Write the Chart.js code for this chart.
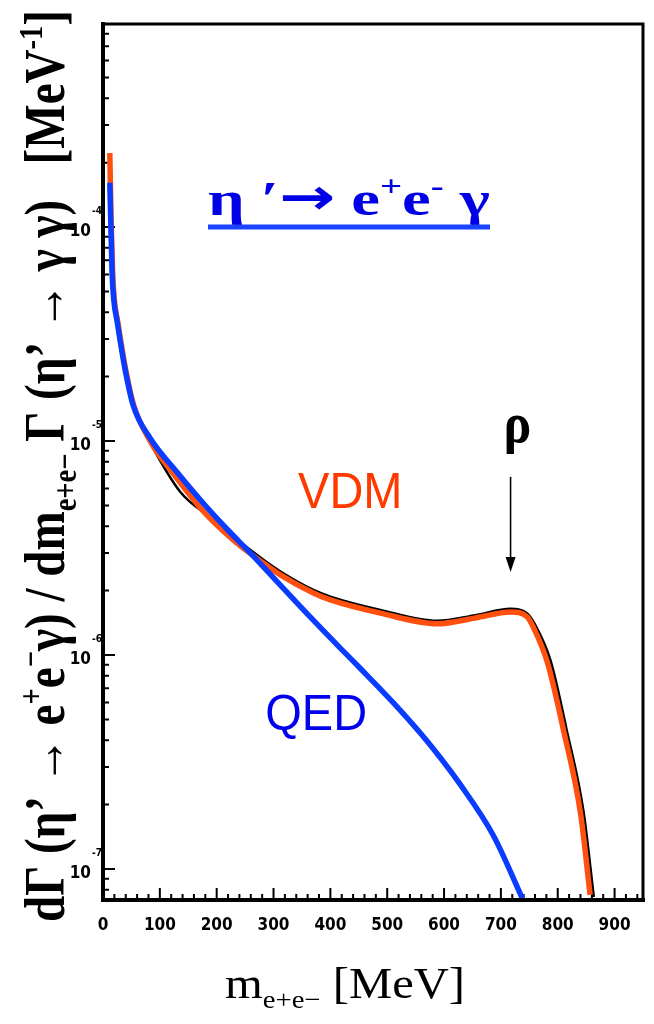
<!DOCTYPE html>
<html>
<head>
<meta charset="utf-8">
<script src="https://cdn.jsdelivr.net/npm/chart.js@4.4.1/dist/chart.umd.min.js"></script>
<style>
  html, body { margin: 0; padding: 0; background: #fff; }
  canvas { display: block; }
</style>
</head>
<body>
<canvas id="rate-chart" width="654" height="1024"></canvas>
<script>
// values: m_ee in MeV, rate in MeV^-1
const vdmMass = [12, 14, 17, 20, 26, 31, 40, 54, 83, 130, 176, 229, 282, 312, 370, 400, 488, 588, 655, 717, 746, 757, 782, 810, 840, 857];
const vdmRate = [2.22e-4, 1.14e-4, 6.1e-5, 4.56e-5, 3.6e-5, 2.96e-5, 2.15e-5, 1.47e-5, 1.0e-5, 6.7e-6, 4.71e-6, 3.45e-6, 2.69e-6, 2.37e-6, 1.95e-6, 1.81e-6, 1.57e-6, 1.40e-6, 1.49e-6, 1.59e-6, 1.51e-6, 1.35e-6, 9.2e-7, 4.47e-7, 1.83e-7, 7.57e-8];

const qedMass = [12, 16, 19, 25, 30, 39, 53, 83, 130, 176, 218, 259, 312, 364, 417, 452, 511, 570, 629, 687, 739];
const qedRate = [1.61e-4, 6.1e-5, 4.56e-5, 3.6e-5, 2.96e-5, 2.15e-5, 1.47e-5, 1.03e-5, 7.16e-6, 5.13e-6, 3.88e-6, 3.00e-6, 2.12e-6, 1.51e-6, 1.08e-6, 8.69e-7, 5.97e-7, 3.96e-7, 2.47e-7, 1.43e-7, 7.16e-8];

// black lines of the scanned original peeking out under the coloured ones
const scanQedMass = [53, 83, 136, 194, 259, 312, 417];
const scanQedRate = [1.42e-5, 9.8e-6, 5.78e-6, 4.28e-6, 2.95e-6, 2.09e-6, 1.07e-6];
const scanVdmMass = [229, 282, 312, 370, 400, 488, 588, 655, 717, 746, 760, 787, 815, 845, 863];
const scanVdmRate = [3.56e-6, 2.78e-6, 2.45e-6, 2.01e-6, 1.87e-6, 1.62e-6, 1.44e-6, 1.53e-6, 1.64e-6, 1.56e-6, 1.38e-6, 9.4e-7, 4.5e-7, 1.85e-7, 7.4e-8];

const xTickValues = [0, 100, 200, 300, 400, 500, 600, 700, 800, 900];
const yTickValues = [1e-4, 1e-5, 1e-6, 1e-7];
const yTickPowers = ['-4', '-5', '-6', '-7'];

const rhoArrow = { mass: 717, from: 6.8e-6, to: 2.44e-6, labelMass: 729, labelRate: 9.9e-6 };
const curveNotes = [
  { text: 'VDM', mass: 435, rate: 4.87e-6, color: '#ff3a00' },
  { text: 'QED', mass: 375, rate: 4.47e-7, color: '#0000ee' }
];

const SERIF = '"Liberation Serif", "Times New Roman", serif';
const SANS = '"Liberation Sans", Arial, sans-serif';
const NARROW = '"Liberation Sans Narrow", "DejaVu Sans Condensed", Arial, sans-serif';
const ARROW = '"DejaVu Sans", sans-serif';

function points(xs, ys) {
  return xs.map((x, i) => ({ x: x, y: ys[i] }));
}

// draws a run of text pieces, some of them raised or lowered
function drawRich(ctx, segs, opt) {
  const size = opt.size;
  const fontOf = s => (s.weight || opt.weight || 'normal') + ' ' +
    Math.round((s.sup || s.sub ? size * 0.6 : size) * (s.k || 1)) + 'px ' + (s.fam || opt.family);
  let total = 0;
  const widths = segs.map(s => {
    ctx.font = fontOf(s);
    const w = ctx.measureText(s.t).width;
    total += w;
    return w;
  });
  const sx = opt.width ? opt.width / total : 1;
  ctx.save();
  ctx.translate(opt.x, opt.y);
  if (opt.rotate) ctx.rotate(opt.rotate);
  ctx.scale(sx, opt.vScale || 1);
  ctx.fillStyle = opt.color || '#000';
  ctx.textAlign = 'left';
  ctx.textBaseline = 'alphabetic';
  let cx = opt.align === 'center' ? -total / 2 : 0;
  segs.forEach((s, i) => {
    ctx.font = fontOf(s);
    const dy = s.sup ? -size * 0.4 : s.sub ? size * 0.22 : (s.dy || 0);
    ctx.fillText(s.t, cx, dy);
    cx += widths[i];
  });
  ctx.restore();
}

const inwardTicks = {
  id: 'inwardTicks',
  beforeDatasetsDraw(chart) {
    const ctx = chart.ctx;
    const area = chart.chartArea;
    const xs = chart.scales.x;
    const ys = chart.scales.y;
    ctx.save();
    ctx.strokeStyle = '#000';
    ctx.lineWidth = 2;
    ctx.beginPath();
    for (let m = 0; m <= xs.max; m += 20) {
      const px = xs.getPixelForValue(m);
      const len = m % 100 === 0 ? 12 : 6;
      ctx.moveTo(px, area.bottom);
      ctx.lineTo(px, area.bottom - len);
    }
    for (let d = -8; d <= -3; d++) {
      for (let k = 1; k <= 9; k++) {
        const v = k * Math.pow(10, d);
        if (v < ys.min || v > ys.max) continue;
        const py = ys.getPixelForValue(v);
        const len = k === 1 ? 12 : 6;
        ctx.moveTo(area.left, py);
        ctx.lineTo(area.left + len, py);
      }
    }
    ctx.stroke();
    ctx.restore();
  },
  afterDatasetsDraw(chart) {
    const ctx = chart.ctx;
    const a = chart.chartArea;
    ctx.save();
    ctx.strokeStyle = '#000';
    ctx.lineCap = 'square';
    ctx.lineWidth = 3;
    ctx.beginPath();
    ctx.moveTo(a.left, a.top);
    ctx.lineTo(a.right, a.top);
    ctx.lineTo(a.right, a.bottom);
    ctx.stroke();
    ctx.lineWidth = 4;
    ctx.beginPath();
    ctx.moveTo(a.left, a.top);
    ctx.lineTo(a.left, a.bottom);
    ctx.lineTo(a.right, a.bottom);
    ctx.stroke();

    // small exponents of the decade labels, tucked against the axis
    const ys = chart.scales.y;
    ctx.fillStyle = '#000';
    ctx.font = 'bold 10px ' + NARROW;
    ctx.textAlign = 'right';
    ctx.textBaseline = 'middle';
    yTickValues.forEach((v, i) => {
      ctx.fillText(yTickPowers[i], a.left - 1, ys.getPixelForValue(v) - 16);
    });
    ctx.restore();
  }
};

const notes = {
  id: 'notes',
  afterDraw(chart) {
    const ctx = chart.ctx;
    const xs = chart.scales.x;
    const ys = chart.scales.y;

    // reaction title with underline
    drawRich(ctx, [
      { t: '\u03B7 \u2032' }, { t: '\u2192', fam: ARROW, k: 1.05, dy: -1 }, { t: ' e' }, { t: '+', sup: 1 }, { t: 'e' }, { t: '-', sup: 1 }, { t: ' \u03B3' }
    ], { x: 208, y: 215, size: 48, weight: 'bold', family: SERIF, color: '#0000e6', width: 282 });
    ctx.save();
    ctx.strokeStyle = '#1a44ff';
    ctx.lineWidth = 5;
    ctx.beginPath();
    ctx.moveTo(208, 227);
    ctx.lineTo(490, 227);
    ctx.stroke();
    ctx.restore();

    // curve names
    curveNotes.forEach(n => {
      drawRich(ctx, [{ t: n.text }], {
        x: xs.getPixelForValue(n.mass), y: ys.getPixelForValue(n.rate),
        size: 47, family: SANS, color: n.color, align: 'center', vScale: 1.05
      });
    });

    // rho marker
    const ax = xs.getPixelForValue(rhoArrow.mass);
    const y0 = ys.getPixelForValue(rhoArrow.from);
    const y1 = ys.getPixelForValue(rhoArrow.to);
    ctx.save();
    ctx.strokeStyle = '#000';
    ctx.fillStyle = '#000';
    ctx.lineWidth = 1.6;
    ctx.beginPath();
    ctx.moveTo(ax, y0);
    ctx.lineTo(ax, y1 - 12);
    ctx.stroke();
    ctx.beginPath();
    ctx.moveTo(ax, y1);
    ctx.lineTo(ax - 5, y1 - 15);
    ctx.lineTo(ax + 5, y1 - 15);
    ctx.closePath();
    ctx.fill();
    ctx.restore();
    drawRich(ctx, [{ t: '\u03C1' }], {
      x: xs.getPixelForValue(rhoArrow.labelMass), y: ys.getPixelForValue(rhoArrow.labelRate),
      size: 52, weight: 'bold', family: SERIF, color: '#000', align: 'center', vScale: 1.1
    });

    // y axis title, reading upward
    drawRich(ctx, [
      { t: 'd\u0393 (\u03B7\u2019 \u2192 e' }, { t: '+', sup: 1 }, { t: 'e' }, { t: '\u2212', sup: 1 },
      { t: '\u03B3) / dm' }, { t: 'e+e\u2212', sub: 1 },
      { t: ' \u0393 (\u03B7\u2019 \u2192 \u03B3 \u03B3)   [MeV' }, { t: '-1', sup: 1 }, { t: ']' }
    ], { x: 64, y: 922, rotate: -Math.PI / 2, size: 56, weight: 'bold', family: SERIF, color: '#000', width: 912 });

    // x axis title
    drawRich(ctx, [
      { t: 'm' }, { t: 'e+e\u2212', sub: 1 }, { t: ' [MeV]' }
    ], { x: 225, y: 998, size: 44, family: SERIF, color: '#000', width: 240 });
  }
};

new Chart(document.getElementById('rate-chart'), {
  type: 'line',
  data: {
    datasets: [
      {
        label: 'QED',
        data: points(qedMass, qedRate),
        borderColor: '#0a3cff',
        borderWidth: 5.5,
        pointRadius: 0,
        cubicInterpolationMode: 'monotone',
        fill: false
      },
      {
        label: 'VDM',
        data: points(vdmMass, vdmRate),
        borderColor: '#ff5010',
        borderWidth: 5.5,
        pointRadius: 0,
        cubicInterpolationMode: 'monotone',
        fill: false
      },
      {
        label: 'scan QED',
        data: points(scanQedMass, scanQedRate),
        borderColor: '#000',
        borderWidth: 2.5,
        pointRadius: 0,
        cubicInterpolationMode: 'monotone',
        fill: false
      },
      {
        label: 'scan VDM',
        data: points(scanVdmMass, scanVdmRate),
        borderColor: '#000',
        borderWidth: 3,
        pointRadius: 0,
        cubicInterpolationMode: 'monotone',
        fill: false
      }
    ]
  },
  options: {
    responsive: false,
    devicePixelRatio: 1,
    animation: false,
    layout: { padding: { left: 0, top: 24, right: 11, bottom: 0 } },
    plugins: {
      legend: { display: false },
      tooltip: { enabled: false }
    },
    scales: {
      x: {
        type: 'linear',
        min: 0,
        max: 950,
        grid: { display: false, drawTicks: false },
        border: { display: false },
        afterBuildTicks: scale => { scale.ticks = xTickValues.map(v => ({ value: v })); },
        afterFit: scale => { scale.height = 124; },
        ticks: {
          color: '#000',
          padding: 15,
          maxRotation: 0,
          autoSkip: false,
          font: { family: NARROW, size: 17, weight: 'bold' }
        }
      },
      y: {
        type: 'logarithmic',
        min: Math.pow(10, -7.145),
        max: Math.pow(10, -3.051),
        grid: { display: false, drawTicks: false },
        border: { display: false },
        afterBuildTicks: scale => { scale.ticks = yTickValues.map(v => ({ value: v })); },
        afterFit: scale => { scale.width = 103; },
        ticks: {
          color: '#000',
          padding: 12,
          labelOffset: 5,
          autoSkip: false,
          font: { family: NARROW, size: 17, weight: 'bold' },
          callback: (v) => yTickValues.some(t => Math.abs(t - v) / t < 1e-6) ? '10' : ''
        }
      }
    }
  },
  plugins: [inwardTicks, notes]
});
</script>
</body>
</html>
